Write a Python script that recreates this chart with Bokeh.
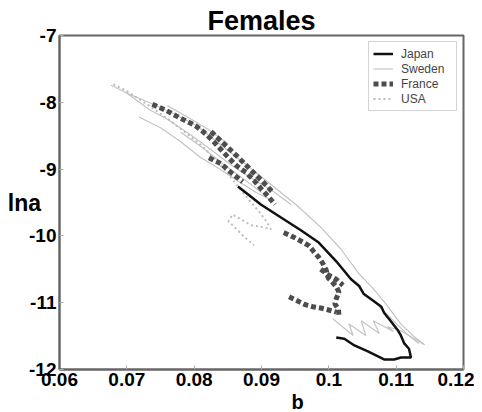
from bokeh.plotting import figure
from bokeh.models import Range1d, FixedTicker, Legend, LegendItem, Title
from bokeh.embed import file_html
from bokeh.resources import INLINE

title_text = "Females"
x_label = "b"
y_label = "lna"
x_ticks = [0.06, 0.07, 0.08, 0.09, 0.10, 0.11, 0.12]
x_tick_labels = ["0.06", "0.07", "0.08", "0.09", "0.1", "0.11", "0.12"]
y_ticks = [-12, -11, -10, -9, -8, -7]
y_tick_labels = ["-12", "-11", "-10", "-9", "-8", "-7"]

# Japan (one trajectory)
japan_b = [0.0865, 0.0884, 0.0899, 0.0933, 0.0959, 0.0985, 0.1011, 0.1033, 0.1045,
           0.1052, 0.1066, 0.1078, 0.1082, 0.1093, 0.1103, 0.1107, 0.1112, 0.1119,
           0.1122, 0.1107, 0.1097, 0.1082, 0.1058, 0.1038, 0.1023, 0.1011]
japan_lna = [-9.26, -9.41, -9.53, -9.75, -9.92, -10.10, -10.38, -10.65, -10.75,
             -10.87, -10.97, -11.06, -11.15, -11.29, -11.42, -11.49, -11.61, -11.69,
             -11.82, -11.82, -11.85, -11.85, -11.73, -11.64, -11.54, -11.52]

# Sweden (several segments)
sweden_b = [
    [0.0676, 0.0706, 0.0735, 0.0765, 0.0802, 0.0840, 0.0877, 0.0914, 0.0951, 0.0988,
     0.1018, 0.1045, 0.1066, 0.1085, 0.1107, 0.1127, 0.1142],
    [0.0718, 0.0750, 0.0780, 0.0810, 0.0832, 0.0862, 0.0892, 0.0914],
    [0.0698, 0.0735, 0.0758, 0.0795, 0.0825, 0.0854, 0.0884, 0.0914, 0.0944],
    [0.1075, 0.1096, 0.1115, 0.1134],
    [0.1006, 0.1036, 0.1030, 0.1055, 0.1048, 0.1075, 0.1066, 0.1096, 0.1087, 0.1107, 0.1142],
    [0.0760, 0.0790, 0.0820, 0.0850],
    [0.0780, 0.0810, 0.0840, 0.0870, 0.0900],
]
sweden_lna = [
    [-7.74, -7.89, -8.01, -8.15, -8.34, -8.64, -8.93, -9.23, -9.53, -9.87,
     -10.20, -10.57, -10.79, -11.02, -11.32, -11.51, -11.63],
    [-8.22, -8.38, -8.59, -8.83, -8.96, -9.16, -9.35, -9.46],
    [-7.85, -8.12, -8.24, -8.49, -8.71, -8.93, -9.13, -9.31, -9.53],
    [-11.06, -11.27, -11.46, -11.61],
    [-11.24, -11.49, -11.32, -11.49, -11.27, -11.46, -11.27, -11.43, -11.36, -11.42, -11.63],
    [-8.05, -8.22, -8.40, -8.62],
    [-8.45, -8.66, -8.90, -9.12, -9.35],
]

# France (several segments)
france_b = [
    [0.0738, 0.0758, 0.0780, 0.0802, 0.0817, 0.0829, 0.0840, 0.0851, 0.0863, 0.0877,
     0.0889, 0.0899, 0.0910, 0.0920],
    [0.0825, 0.0843, 0.0862, 0.0881, 0.0902, 0.0917],
    [0.0822, 0.0840, 0.0857, 0.0872],
    [0.0933, 0.0948, 0.0959, 0.0971, 0.0978, 0.0985, 0.0991, 0.0996, 0.0999, 0.1005,
     0.1011, 0.1015, 0.1011, 0.1009, 0.1014, 0.1015],
    [0.0988, 0.1000, 0.1011, 0.1021],
    [0.0941, 0.0953, 0.0965, 0.0976, 0.0988, 0.1000, 0.1011],
]
france_lna = [
    [-8.03, -8.12, -8.24, -8.35, -8.47, -8.59, -8.71, -8.83, -8.95, -9.05,
     -9.17, -9.29, -9.41, -9.53],
    [-8.44, -8.61, -8.79, -8.98, -9.19, -9.35],
    [-8.83, -8.92, -9.07, -9.19],
    [-9.95, -10.02, -10.08, -10.15, -10.24, -10.32, -10.41, -10.51, -10.63, -10.69,
     -10.76, -10.84, -10.94, -11.02, -11.09, -11.18],
    [-10.50, -10.59, -10.65, -10.74],
    [-10.91, -10.97, -11.03, -11.06, -11.08, -11.11, -11.14],
]

# USA (one trajectory)
usa_b = [0.0680, 0.0698, 0.0721, 0.0743, 0.0765, 0.0788, 0.0810, 0.0832, 0.0851, 0.0869,
         0.0884, 0.0896, 0.0907, 0.0914, 0.0902, 0.0884, 0.0869, 0.0857, 0.0851, 0.0862,
         0.0874, 0.0889]
usa_lna = [-7.73, -7.82, -7.97, -8.12, -8.28, -8.46, -8.64, -8.86, -9.08, -9.31,
           -9.49, -9.63, -9.78, -9.90, -9.87, -9.84, -9.75, -9.68, -9.78, -9.89,
           -10.01, -10.14]

FONT = "Liberation Sans"

p = figure(width=474, height=412, output_backend="svg", toolbar_location=None,
           x_range=Range1d(0.06, 0.12), y_range=Range1d(-12, -7),
           min_border_left=59, min_border_right=11, min_border_top=35, min_border_bottom=36)

p.background_fill_color = "white"
p.border_fill_color = "white"
p.xgrid.visible = False
p.ygrid.visible = False
p.outline_line_color = "#666666"
p.outline_line_width = 2

p.title.text = title_text
p.title.align = "center"
p.title.text_font = FONT
p.title.text_font_size = "27px"
p.title.text_font_style = "bold"
p.title.text_color = "black"
p.title.standoff = 0

p.xaxis.ticker = FixedTicker(ticks=x_ticks)
p.yaxis.ticker = FixedTicker(ticks=y_ticks)
p.xaxis.major_label_overrides = {t: l for t, l in zip(x_ticks, x_tick_labels)}
p.yaxis.major_label_overrides = {t: l for t, l in zip(y_ticks, y_tick_labels)}
for ax in (p.xaxis, p.yaxis):
    ax.axis_line_color = "#666666"
    ax.axis_line_width = 2
    ax.major_tick_in = 4
    ax.major_tick_out = 0
    ax.major_tick_line_color = "#aaaaaa"
    ax.minor_tick_line_color = None
    ax.major_label_text_font = FONT
    ax.major_label_text_font_style = "bold"
    ax.major_label_text_color = "black"
p.xaxis.major_label_text_font_size = "19px"
p.yaxis.major_label_text_font_size = "19px"
p.xaxis.major_label_standoff = 3
p.yaxis.major_label_standoff = 3

# y-axis label "lna", written horizontally left of the tick labels
yax = p.yaxis[0]
yax.axis_label = y_label
yax.axis_label_text_font = FONT
yax.axis_label_text_font_size = "23px"
yax.axis_label_text_font_style = "bold"
yax.axis_label_text_color = "black"
if "axis_label_orientation" in yax.properties():
    yax.axis_label_orientation = "horizontal"
    yax.axis_label_standoff = -15
else:
    yax.axis_label_standoff = 0

# x-axis label "b" as a title below, shifted to sit between 0.09 and 0.1
p.add_layout(Title(text=x_label, align="left", offset=232, standoff=0,
                   text_font=FONT, text_font_size="20px", text_font_style="bold",
                   text_color="black"), "below")

r_sweden = p.multi_line(sweden_b, sweden_lna, line_color="#c4c4c4", line_width=1.2)
r_usa = p.line(usa_b, usa_lna, line_color="#bdbdbd", line_width=2, line_dash="2 3")
r_france = p.multi_line(france_b, france_lna, line_color="#4d4d4d", line_width=5,
                        line_dash="5 3", line_cap="butt")
r_japan = p.line(japan_b, japan_lna, line_color="#111111", line_width=2.5)

legend = Legend(items=[
    LegendItem(label="Japan", renderers=[r_japan]),
    LegendItem(label="Sweden", renderers=[r_sweden]),
    LegendItem(label="France", renderers=[r_france]),
    LegendItem(label="USA", renderers=[r_usa]),
], location="top_right")
legend.margin = 6
legend.padding = 4
legend.spacing = 0
legend.glyph_width = 20
legend.glyph_height = 15
legend.label_height = 15
legend.label_width = 51
legend.label_standoff = 8
legend.label_text_font = FONT
legend.label_text_font_size = "12px"
legend.border_line_color = "#aaaaaa"
legend.border_line_width = 1
legend.background_fill_color = "white"
legend.background_fill_alpha = 1
p.add_layout(legend)

open("out.html", "w").write(file_html(p, INLINE))
